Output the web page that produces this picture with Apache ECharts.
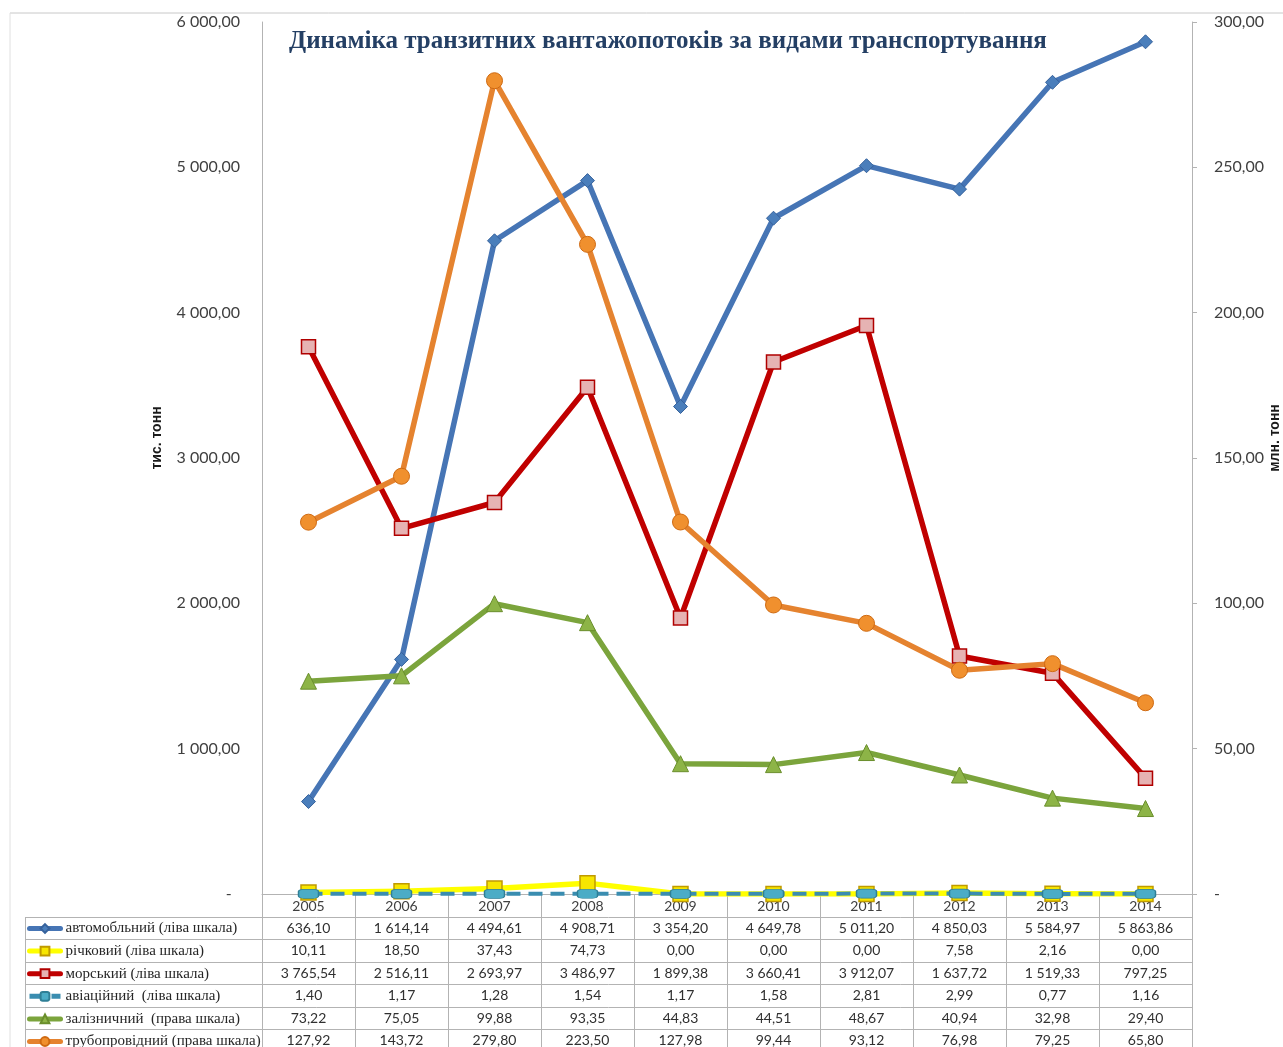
<!DOCTYPE html>
<html>
<head>
<meta charset="utf-8">
<script src="https://cdn.jsdelivr.net/npm/echarts@6/dist/echarts.min.js"></script>
<style>
html,body{margin:0;padding:0;background:#fff;}
#c{width:1283px;height:1047px;}
</style>
</head>
<body>
<div id="c"></div>
<script>
// ---- data ----
const years = ['2005','2006','2007','2008','2009','2010','2011','2012','2013','2014'];
const seriesNames = [
  'автомобльний (ліва шкала)',
  'річковий (ліва шкала)',
  'морський (ліва шкала)',
  'авіаційний  (ліва шкала)',
  'залізничний  (права шкала)',
  'трубопровідний (права шкала)'
];
const avto = [636.10, 1614.14, 4494.61, 4908.71, 3354.20, 4649.78, 5011.20, 4850.03, 5584.97, 5863.86];
const richk = [10.11, 18.50, 37.43, 74.73, 0.00, 0.00, 0.00, 7.58, 2.16, 0.00];
const morsk = [3765.54, 2516.11, 2693.97, 3486.97, 1899.38, 3660.41, 3912.07, 1637.72, 1519.33, 797.25];
const avia = [1.40, 1.17, 1.28, 1.54, 1.17, 1.58, 2.81, 2.99, 0.77, 1.16];
const zaliz = [73.22, 75.05, 99.88, 93.35, 44.83, 44.51, 48.67, 40.94, 32.98, 29.40];
const trub = [127.92, 143.72, 279.80, 223.50, 127.98, 99.44, 93.12, 76.98, 79.25, 65.80];
const leftTicks = {min: 0, max: 6000, interval: 1000};
const rightTicks = {min: 0, max: 300, interval: 50};
const titleText = 'Динаміка транзитних вантажопотоків за видами транспортування';
const leftAxisName = 'тис. тонн';
const rightAxisName = 'млн. тонн';

// ---- helpers ----
function fmt(v) {
  const s = Number(v).toFixed(2);
  let [ip, dp] = s.split('.');
  ip = ip.replace(/\B(?=(\d{3})+(?!\d))/g, ' ');
  return ip + ',' + dp;
}
const tableData = [avto, richk, morsk, avia, zaliz, trub];

// ---- layout ----
const G = {left: 262, right: 1192, top: 22, bottom: 894};
const rowTop = 917, rowH = 22.4, tableLeft = 25, H = 1047;
const colW = (G.right - G.left) / years.length;
const gridColor = '#b3b3b3';

const xAxes = [{
  type: 'category', data: years, gridIndex: 0, position: 'bottom',
  boundaryGap: true,
  axisLine: {show: true, lineStyle: {color: gridColor, width: 1}},
  axisTick: {show: false},
  axisLabel: {interval: 0, margin: 5, fontFamily: 'Lato', fontSize: 14, color: '#404040'}
}];
tableData.forEach((arr, i) => {
  xAxes.push({
    type: 'category', data: years, gridIndex: 0, position: 'bottom',
    offset: rowH * (i + 1),
    axisLine: {show: false}, axisTick: {show: false},
    axisLabel: {interval: 0, margin: 5, fontFamily: 'Lato', fontSize: 14, color: '#303030',
      formatter: (v, idx) => fmt(arr[idx])}
  });
});

const graphics = [];
// chart border (top/left)
graphics.push({type: 'line', shape: {x1: 10, y1: 13, x2: 1283, y2: 13}, style: {stroke: '#c8c8c8', lineWidth: 1}});
graphics.push({type: 'line', shape: {x1: 10, y1: 13, x2: 10, y2: H}, style: {stroke: '#e0e0e0', lineWidth: 1}});
// table vertical lines
for (let k = 0; k <= years.length; k++) {
  const x = Math.round(G.left + colW * k) + 0.5;
  graphics.push({type: 'line', shape: {x1: x, y1: k === 0 || k === years.length ? G.top : G.bottom, x2: x, y2: H},
    style: {stroke: gridColor, lineWidth: 1}, z: -1});
}
graphics.push({type: 'line', shape: {x1: tableLeft + 0.5, y1: rowTop, x2: tableLeft + 0.5, y2: H}, style: {stroke: gridColor, lineWidth: 1}});
for (let k = 0; k < tableData.length; k++) {
  const y = Math.round(rowTop + rowH * k) + 0.5;
  graphics.push({type: 'line', shape: {x1: tableLeft, y1: y, x2: G.right, y2: y}, style: {stroke: gridColor, lineWidth: 1}});
}

const lw = 5.5;
const nameStyle = {fontFamily: 'Liberation Sans', fontWeight: 'bold', fontSize: 14, color: '#1a1a1a', padding: [0, 0, 0, 40]};
const option = {
  backgroundColor: '#ffffff',
  animation: false,
  title: {
    text: titleText, left: 289, top: 29, padding: 0,
    textStyle: {fontFamily: 'Liberation Serif', fontWeight: 'bold', fontSize: 25, color: '#243f64'}
  },
  grid: {left: G.left, right: 1283 - G.right, top: G.top, bottom: H - G.bottom, outerBoundsMode: 'none', containLabel: false},
  legend: {
    orient: 'vertical', left: 27, top: rowTop + 4, height: 200,
    itemWidth: 31, itemHeight: 11, itemGap: 7.6,
    padding: 0,
    lineStyle: {width: 5},
    textStyle: {fontFamily: 'Liberation Serif', fontSize: 15, color: '#262626', lineHeight: 14},
    data: seriesNames
  },
  xAxis: xAxes,
  yAxis: [{
    type: 'value', min: leftTicks.min, max: leftTicks.max, interval: leftTicks.interval,
    position: 'left',
    name: leftAxisName, nameLocation: 'middle', nameGap: 98, nameRotate: 90, nameMoveOverlap: false,
    nameTextStyle: nameStyle,
    axisLine: {show: true, lineStyle: {color: gridColor}},
    axisTick: {show: false},
    splitLine: {show: false},
    axisLabel: {margin: 22, fontFamily: 'Lato', fontSize: 16, color: '#404040',
      formatter: v => v === 0 ? '-  ' : fmt(v)}
  }, {
    type: 'value', min: rightTicks.min, max: rightTicks.max, interval: rightTicks.interval,
    position: 'right',
    name: rightAxisName, nameLocation: 'middle', nameGap: 76, nameRotate: 90, nameMoveOverlap: false,
    nameTextStyle: nameStyle,
    axisLine: {show: true, lineStyle: {color: gridColor}},
    axisTick: {show: true, inside: false, length: 5, lineStyle: {color: gridColor}},
    splitLine: {show: false},
    axisLabel: {margin: 22, fontFamily: 'Lato', fontSize: 16, color: '#404040',
      formatter: v => v === 0 ? '-' : fmt(v)}
  }],
  series: [
    {name: seriesNames[0], type: 'line', yAxisIndex: 0, data: avto,
      symbol: 'diamond', symbolSize: 14,
      lineStyle: {color: '#4675b5', width: lw, cap: 'round', join: 'round'},
      itemStyle: {color: '#4a7ebb', borderColor: '#36629c', borderWidth: 1}},
    {name: seriesNames[1], type: 'line', yAxisIndex: 0, data: richk,
      symbol: 'rect', symbolSize: 15,
      lineStyle: {color: '#ffff00', width: lw, cap: 'round', join: 'round'},
      itemStyle: {color: '#f7e600', borderColor: '#c09a00', borderWidth: 1.5}},
    {name: seriesNames[2], type: 'line', yAxisIndex: 0, data: morsk,
      symbol: 'rect', symbolSize: 14,
      lineStyle: {color: '#c00000', width: lw, cap: 'round', join: 'round'},
      itemStyle: {color: '#e6b3b3', borderColor: '#b00000', borderWidth: 1.5}},
    {name: seriesNames[3], type: 'line', yAxisIndex: 0, data: avia,
      symbol: 'roundRect', symbolSize: [20, 9],
      lineStyle: {color: '#3a8db0', width: 4, type: [14, 8]},
      itemStyle: {color: '#4bacc6', borderColor: '#2f7f96', borderWidth: 1}},
    {name: seriesNames[4], type: 'line', yAxisIndex: 1, data: zaliz,
      symbol: 'triangle', symbolSize: 16,
      lineStyle: {color: '#7ba43c', width: lw, cap: 'round', join: 'round'},
      itemStyle: {color: '#8db447', borderColor: '#6a8e2c', borderWidth: 1}},
    {name: seriesNames[5], type: 'line', yAxisIndex: 1, data: trub,
      symbol: 'circle', symbolSize: 16,
      lineStyle: {color: '#e5832f', width: lw, cap: 'round', join: 'round'},
      itemStyle: {color: '#f0902e', borderColor: '#cf6a12', borderWidth: 1}}
  ],
  graphic: graphics
};

const chart = echarts.init(document.getElementById('c'));
chart.setOption(option);
</script>
</body>
</html>
